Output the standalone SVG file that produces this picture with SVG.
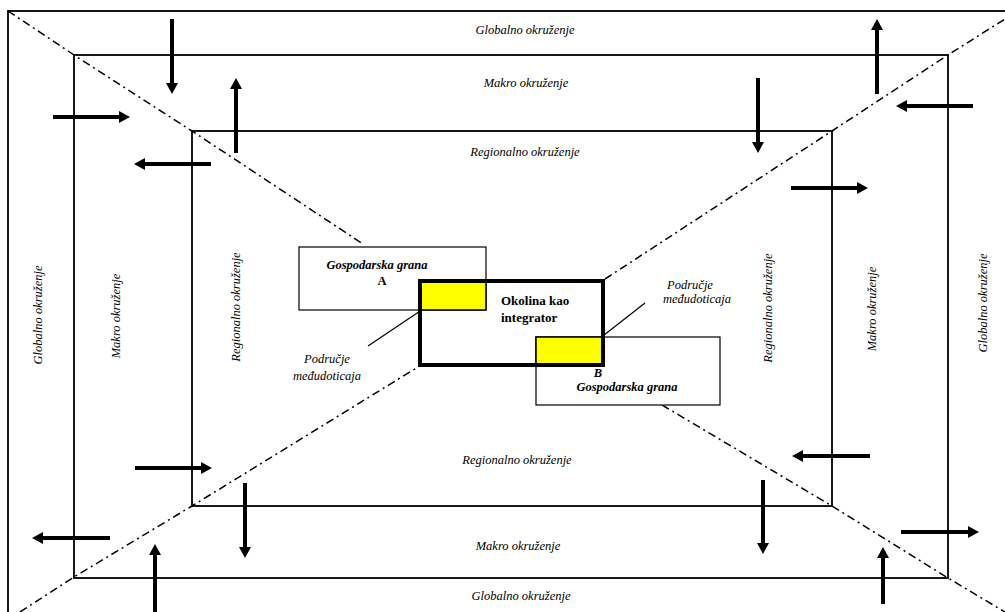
<svg xmlns="http://www.w3.org/2000/svg" width="1005" height="612" viewBox="0 0 1005 612">
<style>
.frame{fill:none;stroke:#000;stroke-width:1.8}
.diag{fill:none;stroke:#000;stroke-width:1.5;stroke-dasharray:8 4 2 4}
.arr{stroke:#000;stroke-width:4;marker-end:url(#ah)}
text{font-family:'Liberation Serif','Times New Roman','DejaVu Serif',serif;fill:#000}
.lbl{font-style:italic;font-size:12.5px;text-anchor:middle}
.bi{font-style:italic;font-weight:bold;font-size:12.5px;text-anchor:middle}
.bn{font-weight:bold;font-size:12.5px;text-anchor:middle}
.b{font-weight:bold;font-size:13px}
.box{fill:#fff;stroke:#000;stroke-width:1.2}
.yel{fill:#ffff00;stroke:#000;stroke-width:1.5}
.ptr{stroke:#000;stroke-width:1.2}
</style>
<defs>
<marker id="ah" markerUnits="userSpaceOnUse" markerWidth="11" markerHeight="12" refX="0" refY="6" orient="auto">
<path d="M0,0 L11,6 L0,12 z" fill="#000"/>
</marker>
</defs>
<rect width="1005" height="612" fill="#fff"/>
<g id="frames">
<rect class="frame" x="8" y="11" width="1010" height="620"/>
<rect class="frame" x="74" y="55" width="874" height="523"/>
<rect class="frame" x="192" y="131" width="640" height="375"/>
</g>
<g id="connectors">
<polyline class="diag" points="8,11 74,55 192,131 363,244"/>
<polyline class="diag" points="662,405 832,506 948,578 1005,612"/>
<polyline class="diag" points="20,612 74,577 192,506 418,367"/>
<polyline class="diag" points="605,279 832,131 948,55 1005,19"/>
<line class="arr" x1="172" y1="19" x2="172" y2="83"/>
<line class="arr" x1="53" y1="117" x2="119" y2="117"/>
<line class="arr" x1="236" y1="153" x2="236" y2="89"/>
<line class="arr" x1="211" y1="164" x2="145" y2="164"/>
<line class="arr" x1="877" y1="94" x2="877" y2="30"/>
<line class="arr" x1="973" y1="106" x2="907" y2="106"/>
<line class="arr" x1="758" y1="78" x2="758" y2="142"/>
<line class="arr" x1="791" y1="188" x2="857" y2="188"/>
<line class="arr" x1="135" y1="468" x2="201" y2="468"/>
<line class="arr" x1="245" y1="483" x2="245" y2="547"/>
<line class="arr" x1="110" y1="538" x2="43" y2="538"/>
<line class="arr" x1="155" y1="612" x2="155" y2="555"/>
<line class="arr" x1="870" y1="456" x2="803" y2="456"/>
<line class="arr" x1="763" y1="480" x2="763" y2="543"/>
<line class="arr" x1="901" y1="532" x2="968" y2="532"/>
<line class="arr" x1="883" y1="604" x2="883" y2="558"/>
<line class="ptr" x1="441" y1="297" x2="368" y2="346"/>
<line class="ptr" x1="590" y1="346" x2="645" y2="303"/>
</g>
<g id="ring-labels">
<text class="lbl" x="525" y="34">Globalno okruženje</text>
<text class="lbl" x="526" y="87">Makro okruženje</text>
<text class="lbl" x="525" y="156">Regionalno okruženje</text>
<text class="lbl" x="517" y="464">Regionalno okruženje</text>
<text class="lbl" x="518" y="550">Makro okruženje</text>
<text class="lbl" x="521" y="600">Globalno okruženje</text>
<text class="lbl" x="42" y="315" transform="rotate(-90 42 315)">Globalno okruženje</text>
<text class="lbl" x="120" y="316" transform="rotate(-90 120 316)">Makro okruženje</text>
<text class="lbl" x="240" y="307" transform="rotate(-90 240 307)">Regionalno okruženje</text>
<text class="lbl" x="772" y="308" transform="rotate(-90 772 308)">Regionalno okruženje</text>
<text class="lbl" x="876" y="309" transform="rotate(-90 876 309)">Makro okruženje</text>
<text class="lbl" x="987" y="303" transform="rotate(-90 987 303)">Globalno okruženje</text>
</g>
<g id="grana-a">
<rect class="box" x="299" y="247" width="187" height="63"/>
<text class="bi" x="377" y="269">Gospodarska grana</text>
<text class="bn" x="382" y="285">A</text>
</g>
<g id="grana-b">
<rect class="box" x="536" y="337" width="184" height="68"/>
<text class="bi" x="598" y="377">B</text>
<text class="bi" x="627" y="391">Gospodarska grana</text>
</g>
<g id="dodir-a">
<rect class="yel" x="420" y="281" width="66" height="29"/>
</g>
<g id="dodir-b">
<rect class="yel" x="536" y="337" width="67" height="28"/>
</g>
<g id="integrator">
<rect x="420" y="281" width="183" height="84" fill="none" stroke="#000" stroke-width="4"/>
<text class="b" x="501" y="305">Okolina kao</text>
<text class="b" x="501" y="322">integrator</text>
</g>
<g id="label-a">
<text class="lbl" x="327" y="363">Područje</text>
<text class="lbl" x="327" y="380">međudoticaja</text>
</g>
<g id="label-b">
<text class="lbl" x="690" y="289">Područje</text>
<text class="lbl" x="697" y="303">međudoticaja</text>
</g>
</svg>
